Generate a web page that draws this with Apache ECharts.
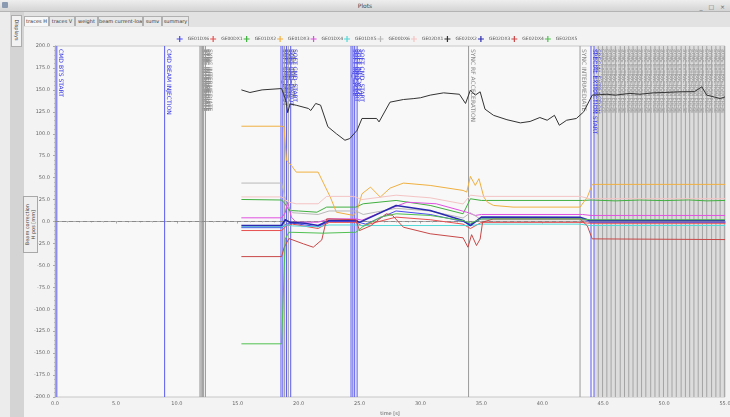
<!DOCTYPE html>
<html><head><meta charset="utf-8">
<script src="https://cdn.jsdelivr.net/npm/echarts@6/dist/echarts.min.js"></script>
<style>
body{margin:0;width:730px;height:417px;overflow:hidden;background:#e4e4e4;font-family:"DejaVu Sans",sans-serif;position:relative}
#titlebar{position:absolute;left:0;top:0;width:730px;height:11px;background:linear-gradient(#eeeeee,#d4d4d4);border-bottom:1px solid #b4b4b4;font-size:6px;color:#444;text-align:center;line-height:11px}
#ticon{position:absolute;left:2px;top:2px;width:6px;height:6px;background:#8a9ab0;border-radius:1px}
#tbtn{position:absolute;right:3px;top:1px;font-size:6px;color:#666;letter-spacing:2px}
#leftcol{position:absolute;left:0;top:12px;width:10px;height:405px;background:#ececec}
#leftbar{position:absolute;left:10px;top:12px;width:14px;height:405px;background:#d4d4d4}
#vtab{position:absolute;left:11px;top:15px;width:9px;height:30px;background:#f2f2f2;border:1px solid #adadad;overflow:hidden}
#vtab span{position:absolute;left:-9px;top:11px;width:28px;font-size:5px;color:#333;transform:rotate(90deg);text-align:center}
#tabs{position:absolute;left:24px;top:12px;width:706px;height:15px;background:#e2e2e2}
.tab{position:absolute;top:4px;height:9px;border:1px solid #b0b0b0;border-bottom:none;background:#e8e8e8;font-size:5px;line-height:9px;text-align:center;color:#333;white-space:nowrap;overflow:hidden}
.tab.sel{background:#f7f7f7}
#chart{position:absolute;left:24px;top:27px;width:706px;height:390px;background:#f3f3f3}
#ytitle{position:absolute;left:23px;top:196px;width:13px;height:55px;background:#efefef;border:1px solid #a8a8a8;display:flex;flex-direction:row;justify-content:center;align-items:center;gap:1px}
#ytitle div{writing-mode:vertical-rl;transform:rotate(180deg);font-size:5px;line-height:5px;color:#444;white-space:nowrap}
</style></head>
<body>
<div id="titlebar"><div id="ticon"></div>Plots<div id="tbtn">_ □ ×</div></div>
<div id="leftcol"></div><div id="leftbar"></div>
<div id="vtab"><span>Displays</span></div>
<div id="tabs">
<div class="tab sel" style="left:0px;width:23px">traces H</div>
<div class="tab" style="left:25px;width:24px">traces V</div>
<div class="tab" style="left:51px;width:21px">weight</div>
<div class="tab" style="left:74px;width:43px">beam current-load</div>
<div class="tab" style="left:119px;width:17px">sumv</div>
<div class="tab" style="left:138px;width:25px">summary</div>
</div>
<div id="chart"></div>
<div id="ytitle"><div>Beam correction</div><div>H pos [mm]</div></div>
<script>
// ---- data ----
const seriesNames = ["GE01DX6","GE00DX1","GE01DX2","GE01DX3","GE01DX4","GE01DX5","GE00DX6","GE02DX1","GE02DX2","GE02DX3","GE02DX4","GE02DX5"];
const seriesColors = ["#4a4af0","#e85050","#40b040","#f0b040","#e050e0","#50d8d8","#b8b8b8","#f4c4c4","#333333","#2a2ab0","#c84848","#50c050"];

const GE01DX6 = [[15.3,-7],[18.6,-7],[19.0,-3],[19.5,-2],[21.6,-6],[22.5,0],[24.7,0],[25.5,-3],[28.0,12],[30.8,8],[33.5,0],[34.1,-3],[35.0,3],[43.1,3],[43.9,-1],[55,-1]];
const GE00DX1 = [[15.3,-10.3],[18.6,-10.3],[19.0,-5],[19.5,-3],[21.6,-8],[22.5,-1],[24.7,-1],[25.2,-5],[28.0,5],[30.8,2],[33.5,-3],[34.1,-8],[35.0,-1],[43.1,-1],[43.9,-2],[55,-2]];
const GE01DX2 = [[15.3,25.1],[18.6,24.5],[18.9,20],[19.2,12.6],[20.0,12],[21.5,10.6],[22.3,16.4],[24.7,16.4],[25.3,20.2],[28.0,24],[30.8,18.3],[33.5,8.8],[34.1,25.9],[35.0,24],[43.3,24],[44.0,24.5],[46.0,23.5],[48.0,24.5],[50.0,23.8],[52.0,24.6],[53.5,23.5],[55,24]];
const GE01DX3 = [[15.3,108.6],[18.6,108.6],[18.8,108],[19.0,70],[19.4,64],[19.8,56.3],[21.6,56.3],[22.6,27.8],[23.1,10.6],[24.5,6.9],[24.8,12],[25.2,31.6],[25.9,39.2],[26.7,27.8],[27.5,38],[28.6,43.8],[30.8,41.1],[33.5,35.4],[33.8,33.5],[34.1,51.4],[34.5,41.1],[34.8,48.8],[35.2,27.8],[35.5,22],[36.0,18.3],[37.6,16.4],[43.1,16.4],[43.7,27.8],[44.1,42.3],[55,42.3]];
const GE01DX4 = [[15.3,4.2],[18.6,4.2],[18.9,10],[19.1,22],[19.4,5],[19.8,-0.8],[21.6,-0.8],[22.5,3],[24.7,3],[25.2,1.5],[27.0,12],[28.9,22],[31.3,20.2],[33.8,10.6],[34.5,6.9],[35.0,8],[43.3,8],[44.0,6.9],[55,6.9]];
const GE01DX5 = [[15.3,-6],[18.6,-6],[19.0,-4],[19.5,-5],[21.6,-6],[22.5,-4],[24.7,-4],[25.3,-4.6],[34.0,-4.6],[34.5,-4],[35.0,-3],[43.1,-3],[43.9,-4.6],[55,-4.6]];
const GE00DX6 = [[15.3,43.8],[18.6,43.8],[19.0,20],[19.5,10],[21.6,8],[22.5,12],[24.7,12],[25.3,8],[28.0,15],[30.8,12],[33.5,4],[34.1,10],[35.0,2],[43.1,2],[43.9,0],[55,0]];
const GE02DX1 = [[15.3,28],[18.6,28],[19.2,22],[19.8,20.2],[21.6,20.2],[22.3,28.6],[24.5,28.6],[25.2,25],[28.0,30],[30.8,27],[33.5,20],[34.1,30],[35.0,28.6],[43.1,28.6],[43.9,26],[55,26]];
const GE02DX2 = [[15.3,150],[16.0,147],[17.0,150],[18.6,151.5],[18.9,140],[19.0,134],[19.1,124],[19.3,134],[19.8,132.5],[20.8,128.8],[21.0,126.5],[21.4,134.5],[21.8,132.6],[22.4,108],[23.1,100],[23.8,92.6],[24.2,94.5],[24.8,104],[25.2,117.4],[26.4,117.4],[26.6,113.5],[27.5,136],[28.6,139],[29.4,140],[30.0,141],[30.8,144],[31.9,146.6],[33.2,145],[33.7,134.5],[34.1,149.7],[34.5,144],[34.9,147.8],[35.3,128],[36.0,121],[37.1,116],[38.2,112.4],[39.0,114],[39.8,118.5],[40.4,115.4],[41.0,121],[41.4,109.7],[42.0,115.4],[42.8,117.4],[43.4,125],[44.1,144],[45.3,145],[46.0,144],[47.2,146],[48.0,145],[49.1,146.6],[50.0,147],[51.3,147.8],[52.5,148],[53.1,153.5],[53.5,144],[54.6,140.2],[55,142]];
const GE02DX3 = [[15.3,-4.6],[18.6,-4.6],[18.9,2],[19.3,-1],[20.5,-2],[21.6,-4.6],[22.5,1.1],[24.7,1.1],[25.0,-1],[28.0,18.3],[30.8,12.6],[33.5,1.1],[34.1,-4.6],[35.0,5],[43.1,4.9],[43.9,1],[55,1]];
const GE02DX4 = [[15.3,-40],[18.6,-40],[18.8,-30],[19.2,-19.4],[20.4,-25.5],[21.2,-29.3],[21.9,-21],[22.3,3],[24.7,2],[25.0,-10.3],[25.9,-5],[27.2,8.8],[27.7,7],[28.6,-6.5],[30.8,-14],[33.5,-18.6],[33.9,-29.3],[34.2,-15],[34.6,-27.4],[34.9,-20],[35.1,-0.8],[36.0,3],[43.1,3],[43.7,-5],[44.1,-19.8],[55,-20.6]];
const GE02DX5 = [[15.3,-139.4],[18.6,-139.4],[18.7,-100],[18.9,-20],[19.2,-12.2],[22.0,-13.3],[24.7,-12.2],[25.2,-6.5],[26.7,4.9],[28.0,8.8],[30.8,6.9],[33.5,1],[34.1,-2],[35.0,3],[43.1,3],[43.9,2],[55,2]];
const seriesData = [GE01DX6,GE00DX1,GE01DX2,GE01DX3,GE01DX4,GE01DX5,GE00DX6,GE02DX1,GE02DX2,GE02DX3,GE02DX4,GE02DX5];

// event markers
const eventTimes  = [0.15, 9.0, 11.9, 12.0, 12.1, 12.2, 12.35, 18.55, 18.7, 18.85, 19.0, 19.15, 19.35, 24.3, 24.45, 24.6, 24.8, 33.95, 43.1, 44.0, 44.25];
const eventKinds  = ["b","b","g","g","g","g","g","b","b","g","b","g","b","b","b","b","b","g","g","b","b"];
const eventLabels = ["CMD BTS START","CMD BEAM INJECTION","SYNC INTERMEDIATE","SYNC INTERMEDIATE","SYNC INTERMEDIATE","SYNC INTERMEDIATE","SYNC INTERMEDIATE",
  "SOFT CMD_DISCUT","SOFT CMD_SETB","SYNC INJECTION","SOFT CMD_DISCUT","SYNC INJECTION","SOFT CMD_START",
  "SOFT INJ_CYCLE","SOFT CMD_START","SOFT INJ_CYCLE","SOFT CMD_START","SYNC RF ACCELERATION","SYNC INTERMEDIATE","SPECIAL EXTRACTION START","SPECIAL EXTRACTION"];
const denseTimes = [44.6,44.95,45.3,45.65,46.0,46.4,46.75,47.1,47.45,47.8,48.15,48.5,48.9,49.25,49.6,49.95,50.3,50.65,51.0,51.4,51.75,52.1,52.45,52.8,53.15,53.5,53.9,54.25,54.6,54.95];
const denseLabel = "SYNC EXTRACTION PULSE";
const denseZone = [44.3, 55];

const xTicks = {min:0, max:55, step:5};
const yTicks = {min:-200, max:200, step:25};

// ---- chart ----
const chart = echarts.init(document.getElementById('chart'));
const FONT = '"DejaVu Sans", sans-serif';
const crossIcon = 'path://M4,0H6V4H10V6H6V10H4V6H0V4H4Z';

const allEvents = [];
eventTimes.forEach((t,i)=>allEvents.push([t, eventLabels[i], eventKinds[i]]));
denseTimes.forEach(t=>allEvents.push([t, denseLabel, "d"]));

const lineSeries = seriesNames.map((n,i)=>({
  name:n, type:'line', data:seriesData[i], symbol:'none', showSymbol:false,
  lineStyle:{color:seriesColors[i], width:(n==="GE02DX3")?1.6:1},
  itemStyle:{color:seriesColors[i]}, z:5, animation:false,
  markLine: i===0 ? {silent:true, symbol:'none', label:{show:false}, animation:false,
    lineStyle:{color:'#8a8a8a', type:[4,3], width:1}, data:[{yAxis:0}]} : undefined
}));

const option = {
  animation:false,
  textStyle:{fontFamily:FONT},
  grid:{left:31, right:5, top:19, bottom:20, containLabel:false, outerBoundsMode:'none',
    show:true, backgroundColor:'#f8f8f8', borderColor:'#c8c8c8', borderWidth:1},
  legend:{data:seriesNames.map(n=>({name:n, icon:crossIcon})), top:9, left:'center', itemWidth:6, itemHeight:6, itemGap:1, padding:0,
    textStyle:{fontSize:4.5, color:'#555', fontFamily:FONT}},
  xAxis:{type:'value', min:xTicks.min, max:xTicks.max, interval:xTicks.step,
    name:'time [s]', nameLocation:'middle', nameGap:12, nameTextStyle:{fontSize:5, color:'#555'},
    axisLine:{show:true, lineStyle:{color:'#aaa'}}, axisTick:{show:true, length:2, lineStyle:{color:'#aaa'}},
    minorTick:{show:true, splitNumber:5, length:1, lineStyle:{color:'#bbb'}},
    splitLine:{show:false},
    axisLabel:{fontSize:5, color:'#666', margin:4, formatter:v=>v.toFixed(1)}},
  yAxis:{type:'value', min:yTicks.min, max:yTicks.max, interval:yTicks.step,
    axisLine:{show:true, lineStyle:{color:'#aaa'}}, axisTick:{show:true, length:2, lineStyle:{color:'#aaa'}},
    minorTick:{show:true, splitNumber:5, length:1, lineStyle:{color:'#bbb'}},
    splitLine:{show:false},
    axisLabel:{fontSize:5, color:'#666', margin:5, formatter:v=>v.toFixed(1)}},
  series:[
    {type:'custom', name:'zone', z:1, silent:true, animation:false, data:[denseZone],
      renderItem:function(params, api){
        const p1 = api.coord([api.value(0), yTicks.max]);
        const p2 = api.coord([api.value(1), yTicks.min]);
        return {type:'rect', shape:{x:p1[0], y:p1[1], width:p2[0]-p1[0], height:p2[1]-p1[1]}, style:{fill:'#dcdcdc'}};
      }},
    {type:'custom', name:'events', z:2, silent:true, animation:false, clip:true,
      data:allEvents.map((e,i)=>[e[0], i]),
      renderItem:function(params, api){
        const e = allEvents[api.value(1)];
        const top = api.coord([api.value(0), yTicks.max]);
        const bot = api.coord([api.value(0), yTicks.min]);
        const kind = e[2];
        const col = kind==='b' ? '#5a5aee' : (kind==='d' ? '#a4a4a4' : '#9a9a9a');
        const tcol = kind==='b' ? '#3a3ae0' : '#8a8a8a';
        return {type:'group', children:[
          {type:'line', shape:{x1:top[0], y1:top[1], x2:bot[0], y2:bot[1]}, style:{stroke:col, lineWidth:1}},
          {type:'text', x:top[0]+1, y:top[1]+3, rotation:-Math.PI/2,
            style:{text:e[1], fill:tcol, font:(kind==='d'?'5px':'6px')+' "DejaVu Sans", sans-serif', align:'left', verticalAlign:'bottom'}}
        ]};
      }},
    ...lineSeries
  ]
};
chart.setOption(option);
</script>
</body></html>
